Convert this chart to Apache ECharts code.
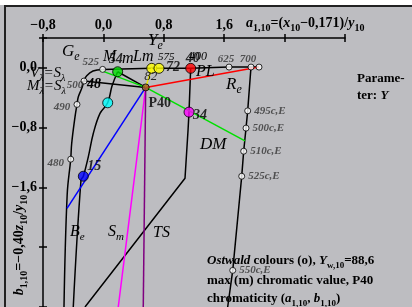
<!DOCTYPE html>
<html>
<head>
<meta charset="utf-8">
<script src="https://cdn.jsdelivr.net/npm/echarts/dist/echarts.min.js"></script>
<style>
html, body { margin: 0; padding: 0; background: #bdbdc1; }
#chart { width: 412px; height: 307px; }
</style>
</head>
<body>
<div id="chart"></div>
<script>
// ---- data (a_1,10 , b_1,10) ----
var xTickVals = [-0.8, 0, 0.8, 1.6];
var xTickLabels = ['\u22120,8', '0,0', '0,8', '1,6'];
var yTickVals = [0, -0.8, -1.6];
var yTickLabels = ['0,0', '\u22120,8', '\u22121,6'];

var P40 = [0.56, -0.261];

// Ostwald colours (o), outer border
var ostwaldLeft = [[-0.522, -3.2], [-0.48, -1.70], [-0.433, -1.222], [-0.42, -1.012], [-0.376, -0.655],
    [-0.35, -0.489], [-0.332, -0.387], [-0.287, -0.274], [-0.257, -0.176], [-0.221, -0.105],
    [-0.138, -0.042], [-0.01, -0.02]];
var ostwaldTop = [[-0.01, -0.02], [0.64, -0.006], [1.156, -0.006], [1.664, 0.011], [1.955, 0.011], [2.061, 0.011]];
var ostwaldRight = [[1.955, 0.011], [1.911, -0.575], [1.889, -0.806], [1.858, -1.115], [1.832, -1.45],
    [1.713, -2.71], [1.646, -3.2]];
var ostwaldNames = ['525', '500', '490', '480', '625', '700', '', '495c,E', '500c,E', '510c,E', '525c,E', '550c,E'];
var ostwaldXY = [[-0.01, -0.02], [-0.257, -0.176], [-0.35, -0.489], [-0.433, -1.222], [1.664, 0.011],
    [1.955, 0.011], [2.061, 0.011], [1.911, -0.575], [1.889, -0.806], [1.858, -1.115], [1.832, -1.45], [1.713, -2.71]];

// max (m) chromatic colours
var maxLeft = [[-0.399, -3.2], [-0.297, -1.504], [-0.266, -1.45], [-0.2, -1.191], [-0.134, -0.878],
    [-0.045, -0.609], [0.057, -0.467], [0.114, -0.243], [0.189, -0.052]];
var maxRight = [[1.156, -0.006], [1.134, -0.592], [1.121, -0.834], [1.081, -1.477], [-0.244, -3.2]];
var maxNames = ['54', '', '72', '40', '34', '', '15'];
var maxXY = [[0.189, -0.052], [0.64, -0.006], [0.736, -0.006], [1.156, -0.006], [1.134, -0.592], [0.057, -0.467], [-0.266, -1.45]];

// lines through P40
var rayGe = [[-0.045, -0.03], P40];
var rayDM = [P40, [1.875, -0.977]];
var rayBe = [P40, [-0.482, -1.879]];
var raySm = [P40, [0.197, -3.2]];
var rayTS = [P40, [0.528, -3.2]];
var rayRe = [P40, [2.061, 0.011]];
var rayYe = [P40, [0.64, -0.006]];
var rayM1 = [[0.189, -0.052], P40];
var rayM2 = [[-0.257, -0.176], P40];

// ---- styles ----
var F = '"Liberation Serif", "Times New Roman", serif';
var maxColors = ['#00e000', '#ffff00', '#ffff00', '#ff0000', '#ff00ff', '#00ffff', '#0000ff'];
var whiteOff = { '525': [-12, -7], '500': [-9, 4], '490': [-15, 3], '480': [-15, 4], '625': [-3, -8], '700': [-3, -8] };
var maxOff = { '54': [-2, -12], '72': [14, -1], '40': [2, -10], '34': [11, 3], '15': [11, -10] };

function mkRich(size, color) {
    var sub = Math.round(size * 0.68);
    return {
        b: { fontFamily: F, fontWeight: 'bold', fontSize: size, lineHeight: size + 2, verticalAlign: 'top', color: color },
        bi: { fontFamily: F, fontWeight: 'bold', fontStyle: 'italic', fontSize: size, lineHeight: size + 2, verticalAlign: 'top', color: color },
        i: { fontFamily: F, fontStyle: 'italic', fontSize: size, lineHeight: size + 2, verticalAlign: 'top', color: color },
        bs: { fontFamily: F, fontWeight: 'bold', fontSize: sub, lineHeight: size + 10, color: color },
        is: { fontFamily: F, fontStyle: 'italic', fontSize: sub, lineHeight: size + 10, color: color }
    };
}

function txt(x, y, text, size, color, rot) {
    return {
        type: 'text', x: x, y: y, rotation: rot || 0, z: 100,
        style: { text: text, rich: mkRich(size, color), textAlign: rot ? 'center' : 'left', textVerticalAlign: 'middle',
            align: rot ? 'center' : 'left', verticalAlign: 'middle' }
    };
}

function line(name, data, color, smooth) {
    return {
        name: name, type: 'line', data: data, symbol: 'none', smooth: smooth || false,
        lineStyle: { color: color, width: 1.5 }, z: 2, silent: true
    };
}

function fmt(vals, labels) {
    return function (v) {
        for (var k = 0; k < vals.length; k++) {
            if (Math.abs(vals[k] - v) < 1e-6) return labels[k];
        }
        return '';
    };
}

var tickStyle = { color: '#000', width: 1.5 };

var chart = echarts.init(document.getElementById('chart'));

var option = {
    animation: false,
    backgroundColor: '#bdbdc1',
    grid: { left: 43, top: 38, width: 302, height: 269 },
    xAxis: [{
        type: 'value', position: 'top', min: -0.8, max: 3.2, interval: 0.8,
        axisLine: { onZero: false, lineStyle: { color: '#000', width: 1.5 } },
        axisTick: { length: 4, lineStyle: tickStyle },
        axisLabel: { margin: 6, color: '#000', fontFamily: F, fontWeight: 'bold', fontSize: 14, formatter: fmt(xTickVals, xTickLabels) },
        splitLine: { show: false }
    }, {
        // inner half of the crossing ticks
        type: 'value', position: 'top', min: -0.8, max: 3.2, interval: 0.8,
        axisLine: { show: false, onZero: false },
        axisTick: { inside: true, length: 4, lineStyle: tickStyle },
        axisLabel: { show: false }, splitLine: { show: false }
    }],
    yAxis: [{
        type: 'value', min: -3.2, max: 0.4, interval: 0.8,
        axisLine: { onZero: false, lineStyle: { color: '#000', width: 1.5 } },
        axisTick: { length: 4, lineStyle: tickStyle },
        axisLabel: { margin: 6, color: '#000', fontFamily: F, fontWeight: 'bold', fontSize: 14, formatter: fmt(yTickVals, yTickLabels) },
        splitLine: { show: false }
    }, {
        type: 'value', position: 'left', min: -3.2, max: 0.4, interval: 0.8,
        axisLine: { show: false, onZero: false },
        axisTick: { inside: true, length: 4, lineStyle: tickStyle },
        axisLabel: { show: false }, splitLine: { show: false }
    }],
    series: [
        line('ostwaldLeft', ostwaldLeft, '#000', 0.4),
        line('ostwaldTop', ostwaldTop, '#000'),
        line('ostwaldRight', ostwaldRight, '#000'),
        line('maxLeft', maxLeft, '#000', 0.4),
        line('maxRight', maxRight, '#000'),
        line('rayM1', rayM1, '#000'),
        line('rayM2', rayM2, '#000'),
        line('rayGe', rayGe, '#00e000'),
        line('rayDM', rayDM, '#00e000'),
        line('rayBe', rayBe, '#0000ff'),
        line('raySm', raySm, '#ff00ff'),
        line('rayTS', rayTS, '#800080'),
        line('rayRe', rayRe, '#ff0000'),
        line('rayYe', rayYe, '#e8e800'),
        {
            name: 'ostwald', type: 'scatter', z: 5, symbolSize: 6,
            itemStyle: { color: '#fff', borderColor: '#000', borderWidth: 1 },
            data: ostwaldXY.map(function (p, k) {
                var n = ostwaldNames[k];
                var lab = whiteOff[n]
                    ? { show: true, position: 'inside', offset: whiteOff[n] }
                    : { show: n !== '', position: 'right', distance: 3 };
                return { value: p, name: n, label: lab };
            }),
            label: { formatter: '{b}', color: '#333', fontFamily: F, fontStyle: 'italic', fontWeight: 'bold', fontSize: 11 }
        },
        {
            name: 'max', type: 'scatter', z: 6, symbolSize: 10,
            data: maxXY.map(function (p, k) {
                var n = maxNames[k];
                return {
                    value: p, name: n,
                    itemStyle: { color: maxColors[k], borderColor: '#000', borderWidth: 1 },
                    label: { show: n !== '', position: 'inside', offset: maxOff[n] || [0, 0] }
                };
            }),
            label: { formatter: '{b}', color: '#000', fontFamily: F, fontStyle: 'italic', fontWeight: 'bold', fontSize: 14 }
        },
        {
            name: 'P40', type: 'scatter', z: 7, symbolSize: 7,
            itemStyle: { color: '#a06020', borderColor: '#000', borderWidth: 1 },
            data: [{ value: P40, name: 'P40' }],
            label: { show: true, position: 'inside', offset: [14, 16], formatter: '{b}', color: '#000', fontFamily: F, fontWeight: 'bold', fontSize: 14 }
        },
        {
            name: 'P40hue', type: 'scatter', z: 7, symbolSize: 0,
            data: [{ value: P40, name: '82' }],
            label: { show: true, position: 'inside', offset: [5, -11], formatter: '{b}', color: '#000', fontFamily: F, fontStyle: 'italic', fontSize: 13 }
        }
    ],
    graphic: [
        { type: 'rect', shape: { x: 0, y: 0, width: 412, height: 5 }, style: { fill: '#fff' }, z: 50 },
        { type: 'line', shape: { x1: 4, y1: 6, x2: 412, y2: 6 }, style: { stroke: '#222', lineWidth: 2 }, z: 50 },
        { type: 'line', shape: { x1: 5, y1: 6, x2: 5, y2: 307 }, style: { stroke: '#222', lineWidth: 2 }, z: 50 },
        txt(246, 28, '{bi|a}{bs|1,10}{b|=(}{bi|x}{bs|10}{b|\u22120,171)/}{bi|y}{bs|10}', 14, '#000'),
        txt(24, 245, '{bi|b}{bs|1,10}{b|=\u22120,40}{bi|z}{bs|10}{b|/}{bi|y}{bs|10}', 14, '#000', Math.PI / 2),
        txt(357, 80, '{b|Parame-}', 13, '#000'),
        txt(357, 97, '{b|ter: }{bi|Y}', 13, '#000'),
        txt(207, 266, '{bi|Ostwald}{b| colours (o), }{bi|Y}{bs|w,10}{b|=88,6}', 13, '#000'),
        txt(207, 282, '{b|max (m) chromatic value, P40}', 13, '#000'),
        txt(207, 304, '{b|chromaticity (}{bi|a}{bs|1,10}{b|, }{bi|b}{bs|1,10}{b|)}', 13, '#000'),
        txt(62, 57, '{i|G}{is|e}', 17, '#00e000'),
        txt(148, 46, '{i|Y}{is|e}', 17, '#ffff00'),
        txt(103, 58, '{i|M}', 16, '#000'),
        txt(122, 60, '{i|m}', 16, '#000'),
        txt(133, 58, '{i|Lm}', 16, '#000'),
        txt(158, 58, '{i|575}', 11, '#333'),
        txt(189, 58, '{i|400}', 12, '#333'),
        txt(196, 73, '{i|PL}', 16, '#ff0000'),
        txt(226, 90, '{i|R}{is|e}', 17, '#ff0000'),
        txt(200, 146, '{i|DM}', 17, '#00e000'),
        txt(70, 237, '{i|B}{is|e}', 16, '#0000ff'),
        txt(108, 237, '{i|S}{is|m}', 16, '#ff00ff'),
        txt(153, 234, '{i|TS}', 16, '#800080'),
        txt(87, 85, '{bi|48}', 14, '#000'),
        txt(30, 78, '{i|V}{is|\u03bb}{i|=S}{is|\u03bb}', 15, '#000'),
        txt(27, 91, '{i|M}{is|\u03bb}{i|=S}{is|\u03bb}', 15, '#000')
    ]
};

chart.setOption(option);
</script>
</body>
</html>
